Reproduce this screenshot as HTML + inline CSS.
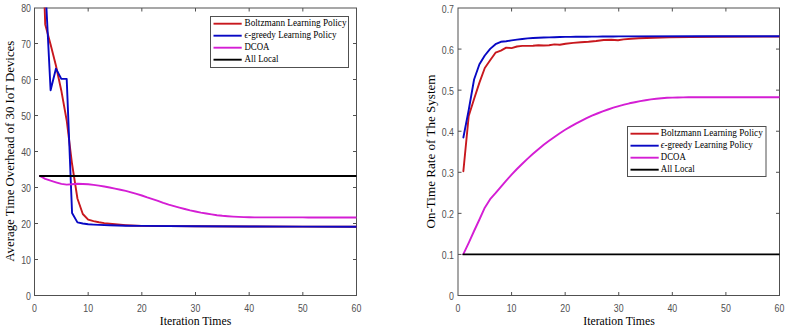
<!DOCTYPE html><html><head><meta charset="utf-8"><style>html,body{margin:0;padding:0;background:#fff;width:788px;height:331px;overflow:hidden}svg{display:block}</style></head><body><svg xmlns="http://www.w3.org/2000/svg" width="788" height="331" viewBox="0 0 788 331">
<rect width="788" height="331" fill="#fff"/>
<defs><clipPath id="cl"><rect x="34.5" y="7.5" width="322" height="288"/></clipPath><clipPath id="cr"><rect x="458" y="8" width="321.5" height="287.5"/></clipPath></defs>
<rect x="34.5" y="8.0" width="322.0" height="287.5" fill="none" stroke="#505050" stroke-width="1"/>
<line x1="88.17" y1="295.5" x2="88.17" y2="292.0" stroke="#505050" stroke-width="1"/>
<line x1="88.17" y1="8.0" x2="88.17" y2="11.5" stroke="#505050" stroke-width="1"/>
<line x1="141.83" y1="295.5" x2="141.83" y2="292.0" stroke="#505050" stroke-width="1"/>
<line x1="141.83" y1="8.0" x2="141.83" y2="11.5" stroke="#505050" stroke-width="1"/>
<line x1="195.50" y1="295.5" x2="195.50" y2="292.0" stroke="#505050" stroke-width="1"/>
<line x1="195.50" y1="8.0" x2="195.50" y2="11.5" stroke="#505050" stroke-width="1"/>
<line x1="249.17" y1="295.5" x2="249.17" y2="292.0" stroke="#505050" stroke-width="1"/>
<line x1="249.17" y1="8.0" x2="249.17" y2="11.5" stroke="#505050" stroke-width="1"/>
<line x1="302.83" y1="295.5" x2="302.83" y2="292.0" stroke="#505050" stroke-width="1"/>
<line x1="302.83" y1="8.0" x2="302.83" y2="11.5" stroke="#505050" stroke-width="1"/>
<line x1="34.5" y1="259.50" x2="38.0" y2="259.50" stroke="#505050" stroke-width="1"/>
<line x1="356.5" y1="259.50" x2="353.0" y2="259.50" stroke="#505050" stroke-width="1"/>
<line x1="34.5" y1="223.50" x2="38.0" y2="223.50" stroke="#505050" stroke-width="1"/>
<line x1="356.5" y1="223.50" x2="353.0" y2="223.50" stroke="#505050" stroke-width="1"/>
<line x1="34.5" y1="187.50" x2="38.0" y2="187.50" stroke="#505050" stroke-width="1"/>
<line x1="356.5" y1="187.50" x2="353.0" y2="187.50" stroke="#505050" stroke-width="1"/>
<line x1="34.5" y1="151.50" x2="38.0" y2="151.50" stroke="#505050" stroke-width="1"/>
<line x1="356.5" y1="151.50" x2="353.0" y2="151.50" stroke="#505050" stroke-width="1"/>
<line x1="34.5" y1="115.50" x2="38.0" y2="115.50" stroke="#505050" stroke-width="1"/>
<line x1="356.5" y1="115.50" x2="353.0" y2="115.50" stroke="#505050" stroke-width="1"/>
<line x1="34.5" y1="79.50" x2="38.0" y2="79.50" stroke="#505050" stroke-width="1"/>
<line x1="356.5" y1="79.50" x2="353.0" y2="79.50" stroke="#505050" stroke-width="1"/>
<line x1="34.5" y1="43.50" x2="38.0" y2="43.50" stroke="#505050" stroke-width="1"/>
<line x1="356.5" y1="43.50" x2="353.0" y2="43.50" stroke="#505050" stroke-width="1"/>
<g font-family="Liberation Sans, sans-serif" font-size="10" fill="#505050">
<text transform="translate(31,300.30) scale(0.88,1)" text-anchor="end">0</text>
<text transform="translate(31,264.30) scale(0.88,1)" text-anchor="end">10</text>
<text transform="translate(31,228.30) scale(0.88,1)" text-anchor="end">20</text>
<text transform="translate(31,192.30) scale(0.88,1)" text-anchor="end">30</text>
<text transform="translate(31,156.30) scale(0.88,1)" text-anchor="end">40</text>
<text transform="translate(31,120.30) scale(0.88,1)" text-anchor="end">50</text>
<text transform="translate(31,84.30) scale(0.88,1)" text-anchor="end">60</text>
<text transform="translate(31,48.30) scale(0.88,1)" text-anchor="end">70</text>
<text transform="translate(31,12.30) scale(0.88,1)" text-anchor="end">80</text>
<text transform="translate(34.50,311.7) scale(0.88,1)" text-anchor="middle">0</text>
<text transform="translate(88.17,311.7) scale(0.88,1)" text-anchor="middle">10</text>
<text transform="translate(141.83,311.7) scale(0.88,1)" text-anchor="middle">20</text>
<text transform="translate(195.50,311.7) scale(0.88,1)" text-anchor="middle">30</text>
<text transform="translate(249.17,311.7) scale(0.88,1)" text-anchor="middle">40</text>
<text transform="translate(302.83,311.7) scale(0.88,1)" text-anchor="middle">50</text>
<text transform="translate(356.50,311.7) scale(0.88,1)" text-anchor="middle">60</text>
</g>
<g clip-path="url(#cl)" fill="none" stroke-width="1.9" stroke-linejoin="round" stroke-linecap="round">
<polyline points="39.87,-129.30 45.23,24.40 50.60,44.60 55.97,65.80 61.33,90.70 66.70,120.50 72.07,164.00 77.43,198.50 82.80,214.00 88.17,219.60 93.53,221.10 98.90,222.30 104.27,223.10 109.63,223.70 115.00,224.30 120.37,224.80 125.73,225.20 131.10,225.50 141.83,225.90 195.50,226.20 249.17,226.50 302.83,226.60 356.50,226.70" stroke="#c8181e"/>
<polyline points="39.87,-136.50 45.23,-15.90 50.60,90.30 55.97,68.60 61.33,78.90 66.70,78.90 72.07,213.00 77.43,222.40 82.80,223.50 88.17,224.20 93.53,224.60 98.90,224.90 109.63,225.30 125.73,225.70 141.83,225.90 195.50,226.20 249.17,226.50 302.83,226.60 356.50,226.70" stroke="#0808c4"/>
<polyline points="39.87,176.00 45.23,178.80 50.60,180.70 55.97,182.30 61.33,183.90 66.70,184.60 72.07,184.20 77.43,183.80 82.80,184.00 88.17,184.30 93.53,184.90 98.90,185.60 104.27,186.50 109.63,187.50 115.00,188.60 120.37,189.70 125.73,190.90 131.10,192.30 136.47,193.90 141.83,195.50 147.20,197.40 152.57,199.10 157.93,200.90 163.30,202.90 168.67,204.60 174.03,206.10 179.40,207.60 184.77,209.00 190.13,210.40 195.50,211.50 200.87,212.60 206.23,213.50 211.60,214.40 216.97,215.20 222.33,215.80 227.70,216.20 233.07,216.60 238.43,216.90 243.80,217.10 249.17,217.30 254.53,217.40 259.90,217.40 265.27,217.40 270.63,217.40 276.00,217.40 281.37,217.40 286.73,217.40 292.10,217.40 297.47,217.40 302.83,217.40 308.20,217.50 313.57,217.50 318.94,217.50 324.30,217.50 329.67,217.50 335.04,217.50 340.40,217.50 345.77,217.50 351.14,217.50 356.50,217.50" stroke="#d41ed4"/>
<polyline points="39.87,176.00 356.50,176.00" stroke="#000"/>
</g>
<g font-family="Liberation Serif, serif" font-size="12" fill="#000">
<text x="195.5" y="324.7" font-size="13" text-anchor="middle" textLength="71.5" lengthAdjust="spacingAndGlyphs">Iteration Times</text>
<text transform="translate(14.3,151.2) rotate(-90)" x="0" y="0" text-anchor="middle" textLength="221" lengthAdjust="spacingAndGlyphs">Average Time Overhead of 30 IoT Devices</text>
<text x="619" y="324.7" font-size="13" text-anchor="middle" textLength="71.5" lengthAdjust="spacingAndGlyphs">Iteration Times</text>
<text transform="translate(434.6,151.5) rotate(-90)" x="0" y="0" text-anchor="middle" textLength="154" lengthAdjust="spacingAndGlyphs">On-Time Rate of The System</text>
</g>
<rect x="458.0" y="8.0" width="321.5" height="287.5" fill="none" stroke="#505050" stroke-width="1"/>
<line x1="511.58" y1="295.5" x2="511.58" y2="292.0" stroke="#505050" stroke-width="1"/>
<line x1="511.58" y1="8.0" x2="511.58" y2="11.5" stroke="#505050" stroke-width="1"/>
<line x1="565.16" y1="295.5" x2="565.16" y2="292.0" stroke="#505050" stroke-width="1"/>
<line x1="565.16" y1="8.0" x2="565.16" y2="11.5" stroke="#505050" stroke-width="1"/>
<line x1="618.74" y1="295.5" x2="618.74" y2="292.0" stroke="#505050" stroke-width="1"/>
<line x1="618.74" y1="8.0" x2="618.74" y2="11.5" stroke="#505050" stroke-width="1"/>
<line x1="672.32" y1="295.5" x2="672.32" y2="292.0" stroke="#505050" stroke-width="1"/>
<line x1="672.32" y1="8.0" x2="672.32" y2="11.5" stroke="#505050" stroke-width="1"/>
<line x1="725.90" y1="295.5" x2="725.90" y2="292.0" stroke="#505050" stroke-width="1"/>
<line x1="725.90" y1="8.0" x2="725.90" y2="11.5" stroke="#505050" stroke-width="1"/>
<line x1="458.0" y1="254.43" x2="461.5" y2="254.43" stroke="#505050" stroke-width="1"/>
<line x1="779.5" y1="254.43" x2="776.0" y2="254.43" stroke="#505050" stroke-width="1"/>
<line x1="458.0" y1="213.36" x2="461.5" y2="213.36" stroke="#505050" stroke-width="1"/>
<line x1="779.5" y1="213.36" x2="776.0" y2="213.36" stroke="#505050" stroke-width="1"/>
<line x1="458.0" y1="172.29" x2="461.5" y2="172.29" stroke="#505050" stroke-width="1"/>
<line x1="779.5" y1="172.29" x2="776.0" y2="172.29" stroke="#505050" stroke-width="1"/>
<line x1="458.0" y1="131.22" x2="461.5" y2="131.22" stroke="#505050" stroke-width="1"/>
<line x1="779.5" y1="131.22" x2="776.0" y2="131.22" stroke="#505050" stroke-width="1"/>
<line x1="458.0" y1="90.15" x2="461.5" y2="90.15" stroke="#505050" stroke-width="1"/>
<line x1="779.5" y1="90.15" x2="776.0" y2="90.15" stroke="#505050" stroke-width="1"/>
<line x1="458.0" y1="49.08" x2="461.5" y2="49.08" stroke="#505050" stroke-width="1"/>
<line x1="779.5" y1="49.08" x2="776.0" y2="49.08" stroke="#505050" stroke-width="1"/>
<g font-family="Liberation Sans, sans-serif" font-size="10" fill="#505050">
<text transform="translate(454,300.30) scale(0.88,1)" text-anchor="end">0</text>
<text transform="translate(454,259.23) scale(0.88,1)" text-anchor="end">0.1</text>
<text transform="translate(454,218.16) scale(0.88,1)" text-anchor="end">0.2</text>
<text transform="translate(454,177.09) scale(0.88,1)" text-anchor="end">0.3</text>
<text transform="translate(454,136.02) scale(0.88,1)" text-anchor="end">0.4</text>
<text transform="translate(454,94.95) scale(0.88,1)" text-anchor="end">0.5</text>
<text transform="translate(454,53.88) scale(0.88,1)" text-anchor="end">0.6</text>
<text transform="translate(454,12.81) scale(0.88,1)" text-anchor="end">0.7</text>
<text transform="translate(458.00,311.7) scale(0.88,1)" text-anchor="middle">0</text>
<text transform="translate(511.58,311.7) scale(0.88,1)" text-anchor="middle">10</text>
<text transform="translate(565.16,311.7) scale(0.88,1)" text-anchor="middle">20</text>
<text transform="translate(618.74,311.7) scale(0.88,1)" text-anchor="middle">30</text>
<text transform="translate(672.32,311.7) scale(0.88,1)" text-anchor="middle">40</text>
<text transform="translate(725.90,311.7) scale(0.88,1)" text-anchor="middle">50</text>
<text transform="translate(779.48,311.7) scale(0.88,1)" text-anchor="middle">60</text>
</g>
<g clip-path="url(#cr)" fill="none" stroke-width="1.9" stroke-linejoin="round" stroke-linecap="round">
<polyline points="463.36,171.20 468.72,116.00 474.07,99.00 479.43,82.60 484.79,68.00 490.15,60.20 495.51,52.70 500.86,50.60 506.22,47.60 511.58,48.10 516.94,46.50 522.30,45.90 527.65,45.90 533.01,45.80 538.37,45.30 543.73,45.50 549.09,45.30 554.44,44.40 559.80,44.80 565.60,43.70 573.20,42.90 580.80,42.20 588.50,41.80 596.10,41.00 603.70,40.00 611.30,39.70 618.00,40.30 623.60,39.40 631.20,38.70 638.80,38.30 654.10,37.70 669.30,37.30 690.00,37.00 720.00,36.80 779.50,36.60" stroke="#c8181e"/>
<polyline points="463.36,137.50 468.72,110.00 474.07,79.50 479.43,64.30 484.79,55.50 490.15,48.90 495.51,44.20 500.86,41.80 506.22,41.20 511.58,40.40 516.94,39.60 522.30,39.00 527.65,38.40 533.01,38.00 538.37,37.70 543.73,37.50 549.09,37.40 554.44,37.20 559.80,37.00 565.16,36.90 570.52,36.85 575.88,36.80 581.23,36.75 586.59,36.70 591.95,36.65 597.31,36.60 602.67,36.55 608.02,36.50 613.38,36.45 618.74,36.40 699.11,36.30 779.48,36.20" stroke="#0808c4"/>
<polyline points="463.36,254.10 468.72,242.80 474.07,231.00 479.43,219.50 484.79,207.70 490.15,199.20 495.51,193.20 500.86,186.80 506.22,180.60 511.58,174.70 516.94,169.00 522.30,163.70 527.65,158.60 533.01,153.80 538.37,149.20 543.73,144.80 549.09,140.70 554.44,136.90 559.80,133.20 565.16,129.80 570.52,126.60 575.88,123.60 581.23,120.80 586.59,118.10 591.95,115.70 597.31,113.50 602.67,111.40 608.02,109.50 613.38,107.70 618.74,106.10 624.10,104.70 629.46,103.30 634.81,102.20 640.17,101.10 645.53,100.20 650.89,99.40 656.25,98.70 661.60,98.20 666.96,97.80 672.32,97.60 677.68,97.45 683.04,97.35 688.39,97.30 693.75,97.25 779.48,97.20" stroke="#d41ed4"/>
<polyline points="463.36,254.40 779.48,254.40" stroke="#000"/>
</g>
<rect x="210.5" y="16.5" width="138" height="51" fill="#fff" stroke="#505050" stroke-width="1"/>
<line x1="213.5" y1="23.7" x2="241.7" y2="23.7" stroke="#c8181e" stroke-width="1.9"/>
<text x="244.5" y="26.0" font-family="Liberation Serif, serif" font-size="10.5" fill="#000" textLength="102" lengthAdjust="spacingAndGlyphs">Boltzmann Learning Policy</text>
<line x1="213.5" y1="35.7" x2="241.7" y2="35.7" stroke="#0808c4" stroke-width="1.9"/>
<text x="244.5" y="38.0" font-family="Liberation Serif, serif" font-size="10.5" fill="#000" textLength="92" lengthAdjust="spacingAndGlyphs"><tspan font-style="italic">ϵ</tspan>-greedy Learning Policy</text>
<line x1="213.5" y1="47.7" x2="241.7" y2="47.7" stroke="#d41ed4" stroke-width="1.9"/>
<text x="244.5" y="50.0" font-family="Liberation Serif, serif" font-size="10.5" fill="#000" textLength="25" lengthAdjust="spacingAndGlyphs">DCOA</text>
<line x1="213.5" y1="59.7" x2="241.7" y2="59.7" stroke="#000" stroke-width="1.9"/>
<text x="244.5" y="62.0" font-family="Liberation Serif, serif" font-size="10.5" fill="#000" textLength="34" lengthAdjust="spacingAndGlyphs">All Local</text>
<rect x="627.5" y="126.5" width="138.5" height="50" fill="#fff" stroke="#505050" stroke-width="1"/>
<line x1="630.5" y1="133.7" x2="658.7" y2="133.7" stroke="#c8181e" stroke-width="1.9"/>
<text x="660.8" y="136.0" font-family="Liberation Serif, serif" font-size="10.5" fill="#000" textLength="102" lengthAdjust="spacingAndGlyphs">Boltzmann Learning Policy</text>
<line x1="630.5" y1="145.7" x2="658.7" y2="145.7" stroke="#0808c4" stroke-width="1.9"/>
<text x="660.8" y="148.0" font-family="Liberation Serif, serif" font-size="10.5" fill="#000" textLength="92" lengthAdjust="spacingAndGlyphs"><tspan font-style="italic">ϵ</tspan>-greedy Learning Policy</text>
<line x1="630.5" y1="157.7" x2="658.7" y2="157.7" stroke="#d41ed4" stroke-width="1.9"/>
<text x="660.8" y="160.0" font-family="Liberation Serif, serif" font-size="10.5" fill="#000" textLength="25" lengthAdjust="spacingAndGlyphs">DCOA</text>
<line x1="630.5" y1="169.7" x2="658.7" y2="169.7" stroke="#000" stroke-width="1.9"/>
<text x="660.8" y="172.0" font-family="Liberation Serif, serif" font-size="10.5" fill="#000" textLength="34" lengthAdjust="spacingAndGlyphs">All Local</text>
</svg></body></html>
